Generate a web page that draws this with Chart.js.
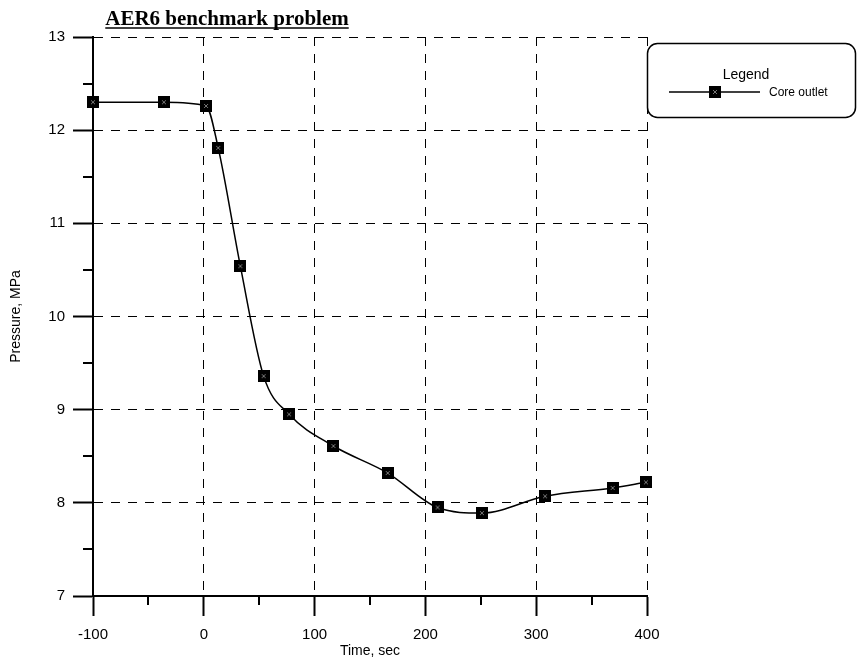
<!DOCTYPE html>
<html>
<head>
<meta charset="utf-8">
<script src="https://cdn.jsdelivr.net/npm/chart.js@4/dist/chart.umd.min.js"></script>
<style>
  html, body { margin: 0; padding: 0; background: #fff; }
  #wrap { width: 860px; height: 662px; }
</style>
</head>
<body>
<div id="wrap"><canvas id="chart" width="860" height="662"></canvas></div>
<script>
// Core outlet pressure transient
const chartTitle = 'AER6 benchmark problem';
const seriesLabel = 'Core outlet';
const timeSec = [-100, -36, 2, 13, 33, 54, 77, 117, 166, 211, 251, 308, 369, 399];
const pressureMPa = [12.30, 12.30, 12.26, 11.81, 10.54, 9.36, 8.95, 8.61, 8.32, 7.95, 7.89, 8.07, 8.16, 8.22];
const xTicks = [-100, 0, 100, 200, 300, 400];
const yTicks = [7, 8, 9, 10, 11, 12, 13];
const xMinorTicks = [-50, 50, 150, 250, 350];
const yMinorTicks = [7.5, 8.5, 9.5, 10.5, 11.5, 12.5];

const SANS = '"Liberation Sans", Arial, sans-serif';
const SERIF = '"Liberation Serif", "Times New Roman", serif';

// black square marker with a faint cross inside
function makeMarker(size) {
  const c = document.createElement('canvas');
  c.width = size; c.height = size;
  const g = c.getContext('2d');
  g.fillStyle = '#000';
  g.fillRect(0, 0, size, size);
  g.strokeStyle = '#777';
  g.lineWidth = 1;
  g.beginPath();
  g.moveTo(4, 4); g.lineTo(size - 4, size - 4);
  g.moveTo(size - 4, 4); g.lineTo(4, size - 4);
  g.stroke();
  return c;
}
const marker = makeMarker(12);

const points = timeSec.map((t, i) => ({ x: t, y: pressureMPa[i] }));

const decorations = {
  id: 'decorations',
  afterDraw(chart) {
    const ctx = chart.ctx;
    const xs = chart.scales.x, ys = chart.scales.y;
    const area = chart.chartArea;

    // minor ticks outside the axes
    ctx.save();
    ctx.strokeStyle = '#000';
    ctx.lineWidth = 2;
    ctx.beginPath();
    yMinorTicks.forEach(v => {
      const y = Math.round(ys.getPixelForValue(v));
      ctx.moveTo(area.left - 10, y); ctx.lineTo(area.left, y);
    });
    xMinorTicks.forEach(v => {
      const x = Math.round(xs.getPixelForValue(v));
      ctx.moveTo(x, area.bottom); ctx.lineTo(x, area.bottom + 9);
    });
    ctx.stroke();
    ctx.restore();

    // underlined title
    ctx.save();
    ctx.font = 'bold 21px ' + SERIF;
    ctx.fillStyle = '#000';
    ctx.textAlign = 'center';
    ctx.textBaseline = 'alphabetic';
    const tx = 227, ty = 25;
    ctx.fillText(chartTitle, tx, ty);
    const w = ctx.measureText(chartTitle).width;
    ctx.strokeStyle = '#000';
    ctx.lineWidth = 1.5;
    ctx.beginPath();
    ctx.moveTo(tx - w / 2, ty + 3); ctx.lineTo(tx + w / 2, ty + 3);
    ctx.stroke();
    ctx.restore();

    // legend box
    ctx.save();
    const bx = 647.5, by = 43.5, bw = 208, bh = 74, r = 10;
    ctx.strokeStyle = '#000';
    ctx.lineWidth = 1.5;
    ctx.beginPath();
    ctx.moveTo(bx + r, by);
    ctx.arcTo(bx + bw, by, bx + bw, by + bh, r);
    ctx.arcTo(bx + bw, by + bh, bx, by + bh, r);
    ctx.arcTo(bx, by + bh, bx, by, r);
    ctx.arcTo(bx, by, bx + bw, by, r);
    ctx.closePath();
    ctx.stroke();

    ctx.fillStyle = '#000';
    ctx.textBaseline = 'middle';
    ctx.textAlign = 'center';
    ctx.font = '14px ' + SANS;
    ctx.fillText('Legend', 746, 75);

    ctx.lineWidth = 1.5;
    ctx.beginPath();
    ctx.moveTo(669, 92); ctx.lineTo(760, 92);
    ctx.stroke();
    ctx.drawImage(marker, 715 - 6, 92 - 6);

    ctx.textAlign = 'left';
    ctx.font = '12px ' + SANS;
    ctx.fillText(chart.data.datasets[0].label, 769, 93);
    ctx.restore();
  }
};

new Chart(document.getElementById('chart'), {
  type: 'line',
  data: {
    datasets: [{
      label: seriesLabel,
      data: points,
      borderColor: '#000',
      borderWidth: 1.5,
      cubicInterpolationMode: 'monotone',
      pointStyle: marker,
      pointRadius: 6,
      pointHoverRadius: 6,
      clip: false,
      fill: false
    }]
  },
  options: {
    responsive: false,
    animation: false,
    events: [],
    layout: { padding: { top: 37, right: 213, left: 0, bottom: 0 } },
    plugins: {
      legend: { display: false },
      title: { display: false },
      tooltip: { enabled: false }
    },
    scales: {
      x: {
        type: 'linear',
        min: -100,
        max: 400,
        afterFit(scale) { scale.height = 66; },
        afterBuildTicks(scale) { scale.ticks = xTicks.map(v => ({ value: v })); },
        ticks: {
          color: '#000',
          font: { family: SANS, size: 15 },
          padding: 10,
          maxRotation: 0
        },
        grid: {
          color: '#000',
          lineWidth: 1,
          tickLength: 20,
          tickWidth: 2,
          tickColor: '#000',
          tickBorderDash: []
        },
        border: { display: true, color: '#000', width: 2, dash: [9, 8] },
        title: {
          display: true,
          text: 'Time, sec',
          color: '#000',
          font: { family: SANS, size: 14 },
          padding: { top: 0, bottom: 2 }
        }
      },
      y: {
        type: 'linear',
        min: 7,
        max: 13,
        afterFit(scale) { scale.width = 93; },
        afterBuildTicks(scale) { scale.ticks = yTicks.map(v => ({ value: v })); },
        ticks: {
          color: '#000',
          font: { family: SANS, size: 15 },
          padding: 8
        },
        grid: {
          color: '#000',
          lineWidth: 1,
          tickLength: 20,
          tickWidth: 2,
          tickColor: '#000',
          tickBorderDash: []
        },
        border: { display: true, color: '#000', width: 2, dash: [9, 8] },
        title: {
          display: true,
          text: 'Pressure, MPa',
          color: '#000',
          font: { family: SANS, size: 14 },
          padding: { top: 8, bottom: 0 }
        }
      }
    }
  },
  plugins: [decorations]
});
</script>
</body>
</html>
